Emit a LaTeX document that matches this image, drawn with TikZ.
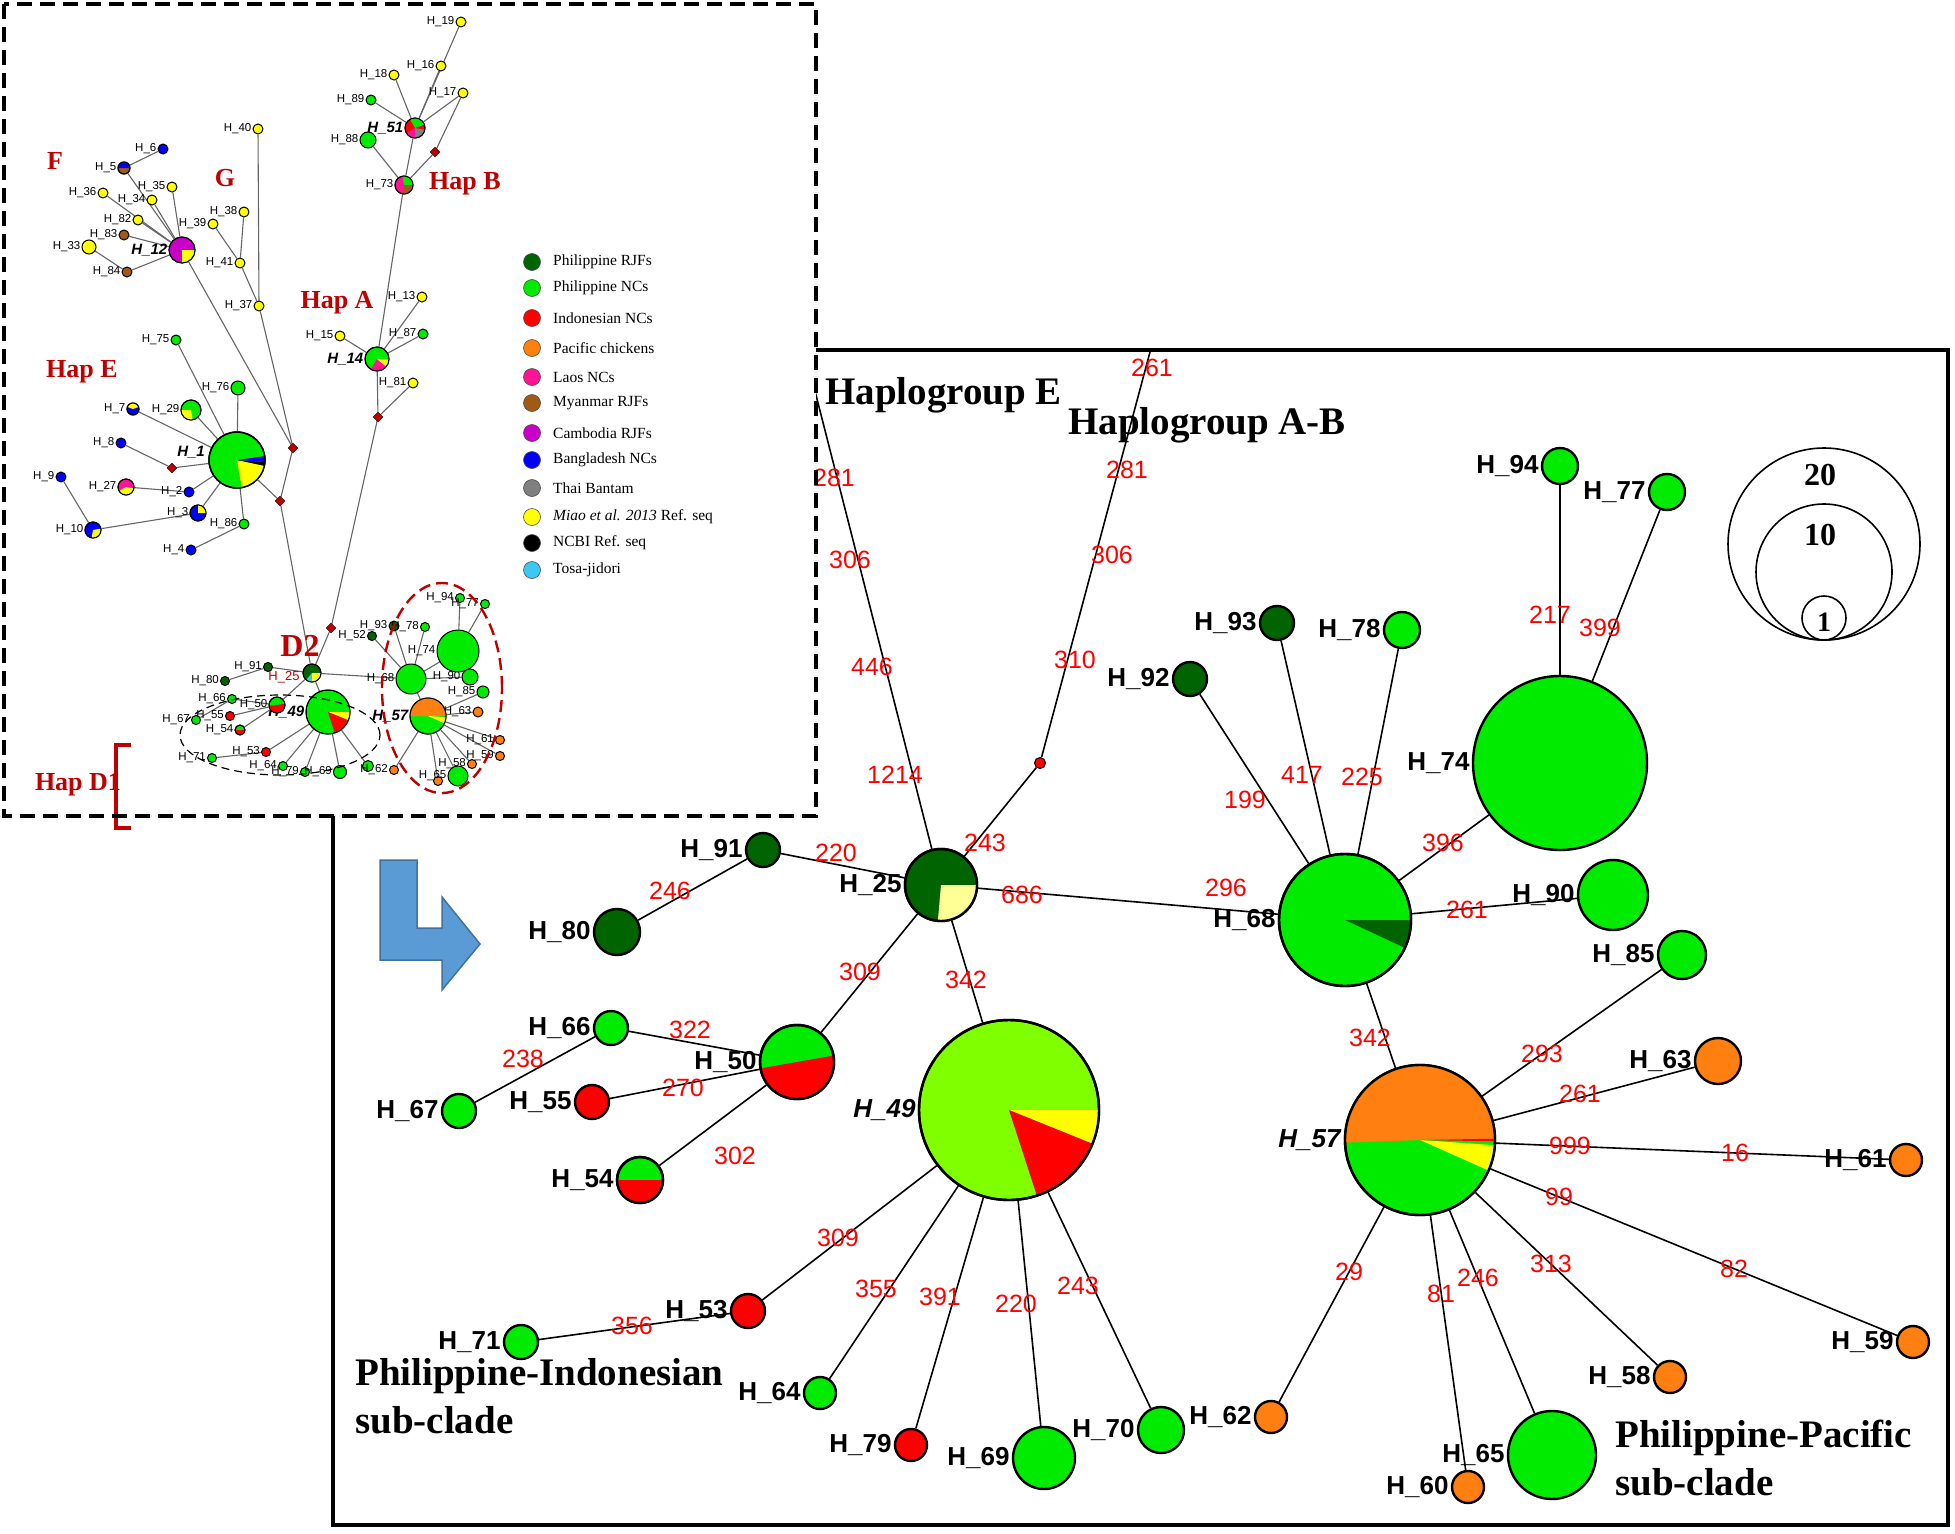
\documentclass[tikz,border=0pt]{standalone}
\usepackage{fontspec}
\setmainfont{Liberation Serif}
\setsansfont{Liberation Sans}
\usetikzlibrary{shapes.geometric,backgrounds}
\definecolor{rjf}{RGB}{0,100,0}
\definecolor{pnc}{RGB}{0,235,0}
\definecolor{pncl}{RGB}{128,255,0}
\definecolor{inc}{RGB}{255,0,0}
\definecolor{pac}{RGB}{255,128,16}
\definecolor{lao}{RGB}{255,20,147}
\definecolor{mya}{RGB}{160,90,20}
\definecolor{cam}{RGB}{200,0,200}
\definecolor{ban}{RGB}{0,0,255}
\definecolor{tha}{RGB}{128,128,128}
\definecolor{mia}{RGB}{255,255,0}
\definecolor{tosa}{RGB}{60,200,240}
\definecolor{dred}{RGB}{192,0,0}
\definecolor{arrowblue}{RGB}{91,155,213}
\definecolor{arrowedge}{RGB}{65,113,156}
\definecolor{paley}{RGB}{255,255,150}
\pgfdeclarelayer{bg}
\pgfdeclarelayer{insetfill}
\pgfdeclarelayer{insetedges}
\pgfsetlayers{bg,insetfill,insetedges,main}
\tikzset{
  mlab/.style={font=\sffamily\bfseries\fontsize{26}{26}\selectfont, inner sep=2pt},
  ilab/.style={font=\sffamily\fontsize{11.5}{12}\selectfont, inner sep=1pt},
  iblab/.style={font=\sffamily\bfseries\itshape\fontsize{15}{15}\selectfont, inner sep=1pt},
  elab/.style={text=red, font=\sffamily\fontsize{25}{25}\selectfont, inner sep=0pt},
  mn/.style={circle, draw=black, line width=2.4pt, inner sep=0pt},
  inn/.style={circle, draw=black, line width=1pt, inner sep=0pt},
  idia/.style={diamond, fill=dred, draw=black, line width=0.4pt, inner sep=0pt, minimum size=10pt},
  reddot/.style={circle, fill=inc, draw=black, line width=1pt, inner sep=0pt, minimum size=11pt},
  medge/.style={draw=black, line width=1.6pt},
  iedge/.style={draw=gray!80!black, line width=1.1pt},
  hg/.style={font=\rmfamily\bfseries\fontsize{39}{48}\selectfont, inner sep=0pt},
  hap/.style={text=dred, font=\rmfamily\bfseries\fontsize{26}{26}\selectfont, inner sep=0pt},
  legc/.style={circle, draw=black!70, line width=0.6pt, inner sep=0pt, minimum size=17pt},
  legt/.style={anchor=west, font=\rmfamily\fontsize{15.5}{16}\selectfont, inner sep=0pt},
}
\newcommand{\mnode}[5]{\node[mn, fill=#4, minimum size=#3*2pt, label={[mlab]left:#5}] (#1) at (#2) {};}
\newcommand{\inode}[5]{\node[inn, fill=#4, minimum size=#3*2pt, label={[ilab]left:#5}] (#1) at (#2) {};}
\newcommand{\pieslice}[5]{\fill[#5] (#1.center) -- ++(#3:#2pt) arc[start angle=#3,end angle=#4,radius=#2pt] -- cycle;}
\newcommand{\ring}[3]{\draw[line width=#3] (#1.center) circle[radius=#2pt];}
\begin{document}
\begin{tikzpicture}[x=1pt,y=-1pt]
\useasboundingbox (0,0) rectangle (1955,1534);
\begin{pgfonlayer}{bg}
\fill[white] (0,0) rectangle (1955,1534);
\end{pgfonlayer}
% ================= MAIN DIAGRAM =================
\mnode{H25}{941,885}{36}{rjf}{H\_25}
\mnode{H91}{763,850}{17}{rjf}{H\_91}
\mnode{H80}{617,932}{23}{rjf}{H\_80}
\mnode{H66}{611,1028}{17}{pnc}{H\_66}
\mnode{H50}{797,1062}{37}{pnc}{H\_50}
\mnode{H55}{592,1102}{17}{inc}{H\_55}
\mnode{H67}{459,1111}{17}{pnc}{H\_67}
\mnode{H54}{640,1180}{23}{pnc}{H\_54}
\mnode{H49}{1009,1110}{90}{pncl}{\textit{H\_49}}
\mnode{H53}{748,1311}{17}{inc}{H\_53}
\mnode{H71}{521,1342}{17}{pnc}{H\_71}
\mnode{H64}{820,1393}{16}{pnc}{H\_64}
\mnode{H79}{911,1445}{16}{inc}{H\_79}
\mnode{H69}{1044,1458}{31}{pnc}{H\_69}
\mnode{H70}{1161,1430}{23}{pnc}{H\_70}
\mnode{H57}{1420,1140}{75}{pnc}{\textit{H\_57}}
\mnode{H63}{1718,1061}{23}{pac}{H\_63}
\mnode{H61}{1906,1160}{16}{pac}{H\_61}
\mnode{H59}{1913,1342}{16}{pac}{H\_59}
\mnode{H58}{1670,1377}{16}{pac}{H\_58}
\mnode{H62}{1271,1417}{16}{pac}{H\_62}
\mnode{H60}{1468,1487}{16}{pac}{H\_60}
\mnode{H65}{1552,1455}{44}{pnc}{H\_65}
\mnode{H92}{1190,679}{17}{rjf}{H\_92}
\mnode{H93}{1277,623}{17}{rjf}{H\_93}
\mnode{H78}{1402,630}{18}{pnc}{H\_78}
\mnode{H94}{1560,466}{18}{pnc}{H\_94}
\mnode{H77}{1667,492}{18}{pnc}{H\_77}
\mnode{H74}{1560,763}{87}{pnc}{H\_74}
\mnode{H68}{1345,920}{66}{pnc}{H\_68}
\mnode{H90}{1613,895}{35}{pnc}{H\_90}
\mnode{H85}{1682,955}{24}{pnc}{H\_85}
\node[reddot] (dot) at (1040,763) {};
\coordinate (topE) at (805,352);
\coordinate (topAB) at (1150,352);
% pies
\pieslice{H25}{36}{-95}{0}{paley}\ring{H25}{36}{2.4pt}
\pieslice{H50}{37}{190}{370}{inc}\ring{H50}{37}{2.4pt}
\pieslice{H54}{23}{180}{360}{inc}\ring{H54}{23}{2.4pt}
\pieslice{H49}{90}{-22}{0}{mia}\pieslice{H49}{90}{-72}{-22}{inc}\ring{H49}{90}{2.4pt}
\pieslice{H57}{75}{0}{182}{pac}\pieslice{H57}{75}{-24}{-4}{mia}\pieslice{H57}{75}{-1}{1}{inc}\ring{H57}{75}{2.4pt}
\pieslice{H68}{66}{-25}{0}{rjf}\ring{H68}{66}{2.4pt}
% edges
\begin{pgfonlayer}{bg}
\draw[line width=4pt] (333,350) rectangle (1948,1525);
\draw[medge] (H80) -- (H91);
\draw[medge] (H91) -- (H25);
\draw[medge] (H25) -- (H68);
\draw[medge] (H25) -- (H50);
\draw[medge] (H25) -- (H49);
\draw[medge] (H66) -- (H50);
\draw[medge] (H66) -- (H67);
\draw[medge] (H50) -- (H55);
\draw[medge] (H50) -- (H54);
\draw[medge] (H49) -- (H53);
\draw[medge] (H53) -- (H71);
\draw[medge] (H49) -- (H64);
\draw[medge] (H49) -- (H79);
\draw[medge] (H49) -- (H69);
\draw[medge] (H49) -- (H70);
\draw[medge] (H68) -- (H92);
\draw[medge] (H68) -- (H93);
\draw[medge] (H68) -- (H78);
\draw[medge] (H68) -- (H74);
\draw[medge] (H68) -- (H90);
\draw[medge] (H68) -- (H57);
\draw[medge] (H74) -- (H94);
\draw[medge] (H74) -- (H77);
\draw[medge] (H57) -- (H85);
\draw[medge] (H57) -- (H63);
\draw[medge] (H57) -- (H61);
\draw[medge] (H57) -- (H59);
\draw[medge] (H57) -- (H58);
\draw[medge] (H57) -- (H65);
\draw[medge] (H57) -- (H60);
\draw[medge] (H57) -- (H62);
\draw[medge] (H25) -- (dot) -- (topAB);
\draw[medge] (H25) -- (topE);
\end{pgfonlayer}
% edge labels
\node[elab] (e1) at (670,891) {246};
\node[elab] (e2) at (836,853) {220};
\node[elab] (e3) at (1022,895) {686};
\node[elab] (e4) at (1226,888) {296};
\node[elab] (e5) at (860,972) {309};
\node[elab] (e6) at (966,980) {342};
\node[elab] (e7) at (690,1030) {322};
\node[elab] (e8) at (523,1059) {238};
\node[elab] (e9) at (683,1088) {270};
\node[elab] (e10) at (735,1156) {302};
\node[elab] (e11) at (838,1238) {309};
\node[elab] (e12) at (876,1289) {355};
\node[elab] (e13) at (632,1326) {356};
\node[elab] (e14) at (940,1297) {391};
\node[elab] (e15) at (1016,1304) {220};
\node[elab] (e16) at (1078,1286) {243};
\node[elab] (e17) at (1245,800) {199};
\node[elab] (e18) at (1302,775) {417};
\node[elab] (e19) at (1362,777) {225};
\node[elab] (e20) at (1443,843) {396};
\node[elab] (e21) at (1467,910) {261};
\node[elab] (e22) at (1370,1038) {342};
\node[elab] (e23) at (1542,1054) {293};
\node[elab] (e24) at (1580,1094) {261};
\node[elab] (e25) at (1570,1146) {999};
\node[elab] (e26) at (1735,1153) {16};
\node[elab] (e27) at (1559,1197) {99};
\node[elab] (e28) at (1734,1269) {82};
\node[elab] (e29) at (1551,1264) {313};
\node[elab] (e30) at (1478,1278) {246};
\node[elab] (e31) at (1441,1294) {81};
\node[elab] (e32) at (1349,1272) {29};
\node[elab] (e33) at (1550,615) {217};
\node[elab] (e34) at (1600,628) {399};
\node[elab] (e35) at (985,843) {243};
\node[elab] (e36) at (1075,660) {310};
\node[elab] (e37) at (1112,555) {306};
\node[elab] (e38) at (1127,470) {281};
\node[elab] (e39) at (1152,368) {261};
\node[elab] (e40) at (895,775) {1214};
\node[elab] (e41) at (872,667) {446};
\node[elab] (e42) at (850,560) {306};
\node[elab] (e43) at (834,478) {281};
% headings
\node[hg, anchor=west] (hgE) at (825,395) {Haplogroup E};
\node[hg, anchor=west] (hgAB) at (1068,425) {Haplogroup A-B};
\node[hg, anchor=north west, align=left] (subPI) at (355,1358) {Philippine-Indonesian\\sub-clade};
\node[hg, anchor=north west, align=left] (subPP) at (1615,1420) {Philippine-Pacific\\sub-clade};
% size legend
\draw[line width=1.6pt] (1824,544) circle[radius=96pt];
\draw[line width=1.6pt] (1824,572) circle[radius=68pt];
\draw[line width=1.6pt] (1824,618) circle[radius=22pt];
\node[font=\rmfamily\bfseries\fontsize{32}{32}\selectfont] (s20) at (1820,475) {20};
\node[font=\rmfamily\bfseries\fontsize{32}{32}\selectfont] (s10) at (1820,535) {10};
\node[font=\rmfamily\bfseries\fontsize{28}{28}\selectfont] (s1) at (1824,622) {1};
% blue arrow
\draw[fill=arrowblue, draw=arrowedge, line width=1.5pt] (380,860) -- (417,860) -- (417,928) -- (442,928) -- (442,897) -- (480,944) -- (442,990) -- (442,960) -- (380,960) -- cycle;
% ================= INSET =================
\begin{pgfonlayer}{insetfill}
\fill[white] (4,4) rectangle (816,816);
\end{pgfonlayer}
% F/G
\inode{I40}{258,129}{5}{mia}{H\_40}
\inode{I6}{163,149}{5}{ban}{H\_6}
\inode{I5}{124,168}{6}{mya}{H\_5}
\inode{I35}{172,187}{5}{mia}{H\_35}
\inode{I36}{103,193}{5}{mia}{H\_36}
\inode{I34}{152,200}{5}{mia}{H\_34}
\inode{I38}{244,212}{5}{mia}{H\_38}
\inode{I39}{213,224}{5}{mia}{H\_39}
\inode{I82}{138,220}{5}{mia}{H\_82}
\inode{I83}{124,235}{5}{mya}{H\_83}
\inode{I33}{89,247}{7}{mia}{H\_33}
\node[inn, fill=cam, minimum size=26pt, label={[iblab]left:H\_12}] (I12) at (182,250) {};
\inode{I84}{127,272}{5}{mya}{H\_84}
\inode{I41}{240,263}{5}{mia}{H\_41}
\inode{I37}{259,306}{5}{mia}{H\_37}
% Hap A/B
\inode{I19}{461,22}{5}{mia}{H\_19}
\inode{I18}{394,75}{5}{mia}{H\_18}
\inode{I16}{441,66}{5}{mia}{H\_16}
\inode{I17}{463,93}{5}{mia}{H\_17}
\inode{I89}{371,100}{5}{pnc}{H\_89}
\inode{I88}{368,140}{8}{pnc}{H\_88}
\node[inn, fill=inc, minimum size=20pt, label={[iblab]left:H\_51}] (I51) at (415,128) {};
\inode{I73}{404,185}{9}{lao}{H\_73}
\node[idia] (IdB) at (435,152) {};
\inode{I13}{422,297}{5}{mia}{H\_13}
\inode{I87}{423,334}{5}{pnc}{H\_87}
\inode{I15}{340,336}{5}{mia}{H\_15}
\node[inn, fill=pnc, minimum size=24pt, label={[iblab]left:H\_14}] (I14) at (377,359) {};
\inode{I81}{413,383}{5}{mia}{H\_81}
\node[idia] (Id3) at (378,417) {};
% Hap E
\inode{I75}{176,340}{5}{pnc}{H\_75}
\inode{I76}{238,388}{7}{pnc}{H\_76}
\inode{I7}{133,409}{6}{ban}{H\_7}
\inode{I29}{191,410}{10}{pnc}{H\_29}
\inode{I8}{121,443}{5}{ban}{H\_8}
\node[idia] (IdA) at (172,468) {};
\node[inn, fill=pnc, minimum size=56pt, line width=1.4pt] (I1) at (237,460) {};
\node[iblab, anchor=east] (I1l) at (206,452) {H\_1};
\inode{I9}{61,477}{5}{ban}{H\_9}
\inode{I27}{126,487}{8}{lao}{H\_27}
\inode{I2}{189,492}{5}{ban}{H\_2}
\inode{I3}{198,513}{8}{ban}{H\_3}
\inode{I10}{93,530}{8}{ban}{H\_10}
\inode{I86}{244,524}{5}{pnc}{H\_86}
\inode{I4}{191,550}{5}{ban}{H\_4}
\node[idia] (Id1) at (293,448) {};
\node[idia] (Id2) at (280,501) {};
\node[idia] (Id4) at (331,628) {};
% inset pies
\pieslice{I12}{13}{-90}{0}{mia}\ring{I12}{13}{1pt}
\pieslice{I5}{6}{0}{180}{ban}\ring{I5}{6}{1pt}
\pieslice{I51}{10}{20}{120}{pnc}\pieslice{I51}{10}{-90}{-10}{tha}\pieslice{I51}{10}{-150}{-90}{lao}\ring{I51}{10}{1pt}
\pieslice{I73}{9}{0}{100}{pnc}\pieslice{I73}{9}{-90}{0}{mya}\ring{I73}{9}{1pt}
\pieslice{I14}{12}{-120}{-40}{lao}\pieslice{I14}{12}{-40}{0}{mia}\ring{I14}{12}{1pt}
\pieslice{I1}{28}{-80}{-12}{mia}\pieslice{I1}{28}{-12}{-4}{black}\pieslice{I1}{28}{-4}{8}{ban}\ring{I1}{28}{1.4pt}
\pieslice{I7}{6}{20}{160}{mia}\ring{I7}{6}{1pt}
\pieslice{I29}{10}{180}{280}{mia}\ring{I29}{10}{1pt}
\pieslice{I27}{8}{-150}{-10}{mia}\ring{I27}{8}{1pt}
\pieslice{I3}{8}{0}{90}{mia}\ring{I3}{8}{1pt}
\pieslice{I10}{8}{-100}{10}{mia}\ring{I10}{8}{1pt}
% inset bottom (D clusters)
\node[inn, fill=rjf, minimum size=18pt] (I25) at (312,673) {};
\inode{I91}{268,667}{4.5}{rjf}{H\_91}
\inode{I80}{225,681}{4.5}{rjf}{H\_80}
\inode{I66}{232,699}{4.5}{pnc}{H\_66}
\inode{I50}{277,705}{8}{pnc}{H\_50}
\inode{I55}{230,716}{4.5}{inc}{H\_55}
\inode{I67}{196,720}{4.5}{pnc}{H\_67}
\inode{I54}{240,730}{5}{pnc}{H\_54}
\node[inn, fill=pnc, minimum size=44pt, label={[iblab]left:H\_49}] (I49) at (328,712) {};
\inode{I53}{266,752}{4.5}{inc}{H\_53}
\inode{I71}{212,758}{4.5}{pnc}{H\_71}
\inode{I64}{283,766}{4.5}{pnc}{H\_64}
\inode{I79}{305,772}{4.5}{pnc}{H\_79}
\inode{I69}{340,772}{6.5}{pnc}{H\_69}
\inode{I70}{368,766}{5.5}{pnc}{}
\node[inn, fill=pnc, minimum size=36pt, label={[iblab]left:H\_57}] (I57) at (428,716) {};
\inode{I63}{478,712}{5}{pac}{H\_63}
\inode{I61}{500,740}{4.5}{pac}{H\_61}
\inode{I59}{500,756}{4.5}{pac}{H\_59}
\inode{I58}{472,764}{4.5}{pac}{H\_58}
\inode{I62}{394,770}{4.5}{pac}{H\_62}
\inode{I60}{438,781}{4.5}{pac}{}
\inode{I65}{458,776}{10}{pnc}{H\_65}
\inode{I92}{372,636}{4.5}{rjf}{H\_52}
\inode{I93}{394,626}{5}{rjf}{H\_93}
\inode{I78}{425,627}{4.5}{pnc}{H\_78}
\inode{I94}{460,598}{4.5}{pnc}{H\_94}
\inode{I77}{485,604}{4.5}{pnc}{H\_77}
\inode{I74}{458,651}{21}{pnc}{H\_74}
\inode{I68}{411,679}{15}{pnc}{H\_68}
\inode{I90}{470,677}{8}{pnc}{H\_90}
\inode{I85}{483,692}{6}{pnc}{H\_85}
\node[text=dred, font=\sffamily\fontsize{13}{13}\selectfont, inner sep=0pt] (I25l) at (284,677) {H\_25};
\pieslice{I25}{9}{-95}{0}{mia}\pieslice{I25}{9}{-130}{-95}{tosa}\ring{I25}{9}{1pt}
\pieslice{I50}{8}{190}{370}{inc}\ring{I50}{8}{1pt}
\pieslice{I54}{5}{180}{360}{inc}\ring{I54}{5}{1pt}
\pieslice{I49}{22}{-22}{0}{mia}\pieslice{I49}{22}{-72}{-22}{inc}\ring{I49}{22}{1pt}
\pieslice{I57}{18}{0}{180}{pac}\pieslice{I57}{18}{-24}{-4}{mia}\ring{I57}{18}{1pt}
% inset edges
\begin{pgfonlayer}{insetedges}
\draw[iedge] (I40) -- (I37);
\draw[iedge] (I38) -- (I41);
\draw[iedge] (I39) -- (I41);
\draw[iedge] (I41) -- (I37);
\draw[iedge] (I37) -- (Id1);
\draw[iedge] (I12) -- (Id1);
\draw[iedge] (I6) -- (I5);
\draw[iedge] (I5) -- (I12);
\draw[iedge] (I35) -- (I12);
\draw[iedge] (I34) -- (I12);
\draw[iedge] (I36) -- (I12);
\draw[iedge] (I82) -- (I12);
\draw[iedge] (I83) -- (I12);
\draw[iedge] (I84) -- (I12);
\draw[iedge] (I33) -- (I84);
\draw[iedge] (I19) -- (I51);
\draw[iedge] (I18) -- (I51);
\draw[iedge] (I16) -- (I51);
\draw[iedge] (I17) -- (I51);
\draw[iedge] (I89) -- (I51);
\draw[iedge] (I88) -- (I73);
\draw[iedge] (I51) -- (I73);
\draw[iedge] (I17) -- (IdB) -- (I73);
\draw[iedge] (I73) -- (I14);
\draw[iedge] (I13) -- (I14);
\draw[iedge] (I87) -- (I14);
\draw[iedge] (I15) -- (I14);
\draw[iedge] (I14) -- (Id3);
\draw[iedge] (I81) -- (Id3);
\draw[iedge] (Id3) -- (Id4);
\draw[iedge] (Id4) -- (I25);
\draw[iedge] (Id1) -- (Id2);
\draw[iedge] (Id2) -- (I25);
\draw[iedge] (I75) -- (I1);
\draw[iedge] (I76) -- (I1);
\draw[iedge] (I29) -- (I1);
\draw[iedge] (I7) -- (I1);
\draw[iedge] (IdA) -- (I1);
\draw[iedge] (I8) -- (IdA);
\draw[iedge] (I2) -- (I1);
\draw[iedge] (I27) -- (I2);
\draw[iedge] (I3) -- (I1);
\draw[iedge] (I10) -- (I3);
\draw[iedge] (I9) -- (I10);
\draw[iedge] (I86) -- (I1);
\draw[iedge] (I4) -- (I86);
\draw[iedge] (I1) -- (Id2);
\draw[iedge] (I25) -- (I91);
\draw[iedge] (I91) -- (I80);
\draw[iedge] (I25) -- (I68);
\draw[iedge] (I25) -- (I50);
\draw[iedge] (I25) -- (I49);
\draw[iedge] (I50) -- (I66);
\draw[iedge] (I50) -- (I55);
\draw[iedge] (I50) -- (I54);
\draw[iedge] (I66) -- (I67);
\draw[iedge] (I49) -- (I53);
\draw[iedge] (I53) -- (I71);
\draw[iedge] (I49) -- (I64);
\draw[iedge] (I49) -- (I79);
\draw[iedge] (I49) -- (I69);
\draw[iedge] (I49) -- (I70);
\draw[iedge] (I68) -- (I74);
\draw[iedge] (I68) -- (I92);
\draw[iedge] (I68) -- (I93);
\draw[iedge] (I68) -- (I78);
\draw[iedge] (I68) -- (I90);
\draw[iedge] (I68) -- (I57);
\draw[iedge] (I74) -- (I94);
\draw[iedge] (I74) -- (I77);
\draw[iedge] (I57) -- (I63);
\draw[iedge] (I57) -- (I61);
\draw[iedge] (I57) -- (I59);
\draw[iedge] (I57) -- (I58);
\draw[iedge] (I57) -- (I65);
\draw[iedge] (I57) -- (I60);
\draw[iedge] (I57) -- (I62);
\draw[iedge] (I57) -- (I85);
\end{pgfonlayer}
% inset dashed ellipses
\draw[black, line width=1.2pt, dash pattern=on 8pt off 5pt] (280,735) ellipse[x radius=100pt, y radius=40pt];
\draw[dred, line width=2.4pt, dash pattern=on 12pt off 6pt] (442,688) ellipse[x radius=60pt, y radius=105pt];
% inset group labels
\node[hap] (lF) at (55,161) {F};
\node[hap] (lG) at (225,178) {G};
\node[hap] (lHA) at (337,303) {Hap A};
\node[hap] (lHB) at (465,184) {Hap B};
\node[hap] (lHE) at (82,372) {Hap E};
\node[hap, font=\rmfamily\bfseries\fontsize{32}{32}\selectfont] (lD2) at (300,646) {D2};
\node[hap] (lD1) at (78,785) {Hap D1};
\draw[dred, line width=4pt] (131,745) -- (116,745) -- (116,828) -- (131,828);
% legend
\node[legc, fill=rjf] (L1) at (532,262) {};
\node[legt] (T1) at (553,262) {Philippine RJFs};
\node[legc, fill=pnc] (L2) at (532,288) {};
\node[legt] (T2) at (553,288) {Philippine NCs};
\node[legc, fill=inc] (L3) at (532,318) {};
\node[legt] (T3) at (553,318) {Indonesian NCs};
\node[legc, fill=pac] (L4) at (532,348) {};
\node[legt] (T4) at (553,348) {Pacific chickens};
\node[legc, fill=lao] (L5) at (532,377) {};
\node[legt] (T5) at (553,377) {Laos NCs};
\node[legc, fill=mya] (L6) at (532,403) {};
\node[legt] (T6) at (553,403) {Myanmar RJFs};
\node[legc, fill=cam] (L7) at (532,433) {};
\node[legt] (T7) at (553,433) {Cambodia RJFs};
\node[legc, fill=ban] (L8) at (532,460) {};
\node[legt] (T8) at (553,460) {Bangladesh NCs};
\node[legc, fill=tha] (L9) at (532,488) {};
\node[legt] (T9) at (553,488) {Thai Bantam};
\node[legc, fill=mia] (L10) at (532,517) {};
\node[legt] (T10) at (553,517) {\textit{Miao et al. 2013} Ref. seq};
\node[legc, fill=black] (L11) at (532,543) {};
\node[legt] (T11) at (553,543) {NCBI Ref. seq};
\node[legc, fill=tosa] (L12) at (532,570) {};
\node[legt] (T12) at (553,570) {Tosa-jidori};
% inset border
\draw[line width=4.5pt, dash pattern=on 15pt off 8pt] (4,4) rectangle (816,816);
\end{tikzpicture}
\end{document}
